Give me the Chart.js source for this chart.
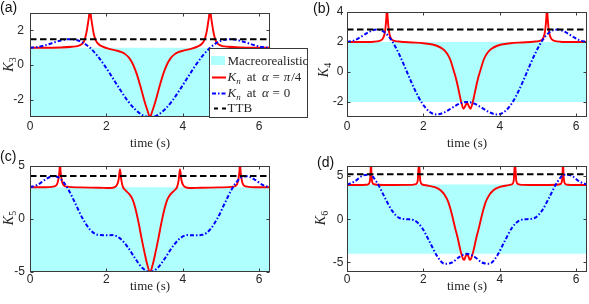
<!DOCTYPE html>
<html>
<head>
<meta charset="utf-8">
<script src="https://cdn.jsdelivr.net/npm/chart.js@4.4.1/dist/chart.umd.min.js"></script>
<style>
  html, body { margin: 0; padding: 0; background: #fff; }
  #wrap { position: relative; width: 589px; height: 304px; overflow: hidden; }
  canvas { position: absolute; }
</style>
</head>
<body>
<div id="wrap">
  <canvas id="pa" width="310" height="152" style="left:0px;top:0px"></canvas>
  <canvas id="pb" width="299" height="152" style="left:290px;top:0px"></canvas>
  <canvas id="pc" width="300" height="159" style="left:0px;top:145px"></canvas>
  <canvas id="pd" width="299" height="159" style="left:290px;top:145px"></canvas>
</div>
<script>
// ===== DATA =====
const TWO_PI = 6.2832;
const xTicks = [0, 2, 4, 6];
const yTicksA = [-2, 0, 2];
const yTicksB = [-2, 0, 2, 4];
const yTicksC = [-5, 0, 5];
const yTicksD = [-5, 0, 5];

// macrorealistic band and temporal Tsirelson bound, panels a..d
const macroLo = [-3, -2, -5, -4];
const macroHi = [1, 2, 3, 4];
const ttb = [1.5, 2.828, 4.045, 5.196];

// K_n at alpha = 0 (blue)
const tBlue = [0, 0.1963, 0.3927, 0.5890, 0.7854, 0.9817, 1.1781, 1.3744, 1.5708, 1.7671, 1.9635, 2.1598, 2.3562, 2.5525, 2.7489, 2.9452, 3.1416, 3.3379, 3.5343, 3.7306, 3.9270, 4.1233, 4.3197, 4.5160, 4.7124, 4.9087, 5.1051, 5.3014, 5.4978, 5.6941, 5.8905, 6.0868, 6.2832];
const k3Blue = [1.00, 1.04, 1.14, 1.28, 1.41, 1.49, 1.47, 1.31, 1.00, 0.53, -0.06, -0.73, -1.41, -2.05, -2.55, -2.89, -3.00, -2.89, -2.55, -2.05, -1.41, -0.73, -0.06, 0.53, 1.00, 1.31, 1.47, 1.49, 1.41, 1.28, 1.14, 1.04, 1.00];
const k4Blue = [2.00, 2.11, 2.39, 2.69, 2.83, 2.65, 2.07, 1.14, 0.00, -1.14, -2.07, -2.65, -2.83, -2.69, -2.39, -2.11, -2.00, -2.11, -2.39, -2.69, -2.83, -2.65, -2.07, -1.14, 0.00, 1.14, 2.07, 2.65, 2.83, 2.69, 2.39, 2.11, 2.00];
const k5Blue = [3.00, 3.22, 3.70, 4.03, 3.83, 2.93, 1.53, 0.07, -1.00, -1.49, -1.53, -1.52, -1.83, -2.62, -3.70, -4.63, -5.00, -4.63, -3.70, -2.62, -1.83, -1.52, -1.53, -1.49, -1.00, 0.07, 1.53, 2.93, 3.83, 4.03, 3.70, 3.22, 3.00];
const k6Blue = [4.00, 4.35, 5.00, 5.14, 4.24, 2.58, 0.99, 0.14, 0.00, -0.14, -0.99, -2.58, -4.24, -5.14, -5.00, -4.35, -4.00, -4.35, -5.00, -5.14, -4.24, -2.58, -0.99, -0.14, 0.00, 0.14, 0.99, 2.58, 4.24, 5.14, 5.00, 4.35, 4.00];

// K_n at alpha = pi/4 (red)
const tRedA = [0, 0.4, 0.8, 1.1, 1.25, 1.35, 1.42, 1.47, 1.51, 1.54, 1.5708, 1.60, 1.63, 1.67, 1.72, 1.79, 1.89, 2.05, 2.25, 2.4, 2.5, 2.6, 2.7, 2.8, 2.9, 3.0, 3.08, 3.1416, 3.2032, 3.2832, 3.3832, 3.4832, 3.5832, 3.6832, 3.7832, 3.8832, 4.0332, 4.2332, 4.3932, 4.4932, 4.5632, 4.6132, 4.6532, 4.6832, 4.7124, 4.7432, 4.7732, 4.8132, 4.8632, 4.9332, 5.0332, 5.1832, 5.4832, 5.8832, 6.2832];
const k3Red = [1.0, 1.0, 1.02, 1.06, 1.1, 1.2, 1.4, 1.8, 2.3, 2.75, 3.2, 2.75, 2.3, 1.8, 1.45, 1.22, 1.08, 0.95, 0.85, 0.75, 0.62, 0.4, 0.02, -0.55, -1.3, -2.1, -2.65, -3.0, -2.65, -2.1, -1.3, -0.55, 0.02, 0.4, 0.62, 0.75, 0.85, 0.95, 1.08, 1.22, 1.45, 1.8, 2.3, 2.75, 3.2, 2.75, 2.3, 1.8, 1.4, 1.2, 1.1, 1.06, 1.02, 1.0, 1.0];

const tRedB = [0, 0.4, 0.7, 0.85, 0.93, 0.98, 1.01, 1.03, 1.0472, 1.065, 1.085, 1.115, 1.16, 1.24, 1.4, 1.7, 2.0, 2.2, 2.35, 2.5, 2.6, 2.7, 2.78, 2.86, 2.93, 2.99, 3.05, 3.1, 3.1416, 3.1832, 3.2332, 3.2932, 3.3532, 3.4232, 3.5032, 3.5832, 3.6832, 3.7832, 3.9332, 4.0832, 4.2832, 4.5832, 4.8832, 5.0432, 5.1232, 5.1682, 5.1982, 5.2182, 5.236, 5.2532, 5.2732, 5.3032, 5.3532, 5.4332, 5.5832, 5.8832, 6.2832];
const k4Red = [2.0, 2.0, 2.02, 2.08, 2.2, 2.5, 3.0, 3.6, 4.2, 3.6, 3.0, 2.5, 2.2, 2.08, 2.02, 1.97, 1.92, 1.85, 1.75, 1.55, 1.3, 0.85, 0.2, -0.5, -1.3, -2.0, -2.45, -2.25, -2.05, -2.25, -2.45, -2.0, -1.3, -0.5, 0.2, 0.85, 1.3, 1.55, 1.75, 1.85, 1.92, 1.97, 2.02, 2.08, 2.2, 2.5, 3.0, 3.6, 4.2, 3.6, 3.0, 2.5, 2.2, 2.08, 2.02, 2.0, 2.0];

const tRedC = [0, 0.4, 0.6, 0.68, 0.72, 0.75, 0.77, 0.7854, 0.80, 0.82, 0.85, 0.89, 0.97, 1.3, 1.8, 2.1, 2.22, 2.28, 2.32, 2.3562, 2.39, 2.43, 2.5, 2.6, 2.68, 2.76, 2.84, 2.92, 3.0, 3.07, 3.1416, 3.2132, 3.2832, 3.3632, 3.4432, 3.5232, 3.6032, 3.6832, 3.7832, 3.8532, 3.8932, 3.927, 3.9632, 4.0032, 4.0632, 4.1832, 4.4832, 4.9832, 5.3132, 5.3932, 5.4332, 5.4632, 5.4832, 5.4978, 5.5132, 5.5332, 5.5632, 5.6032, 5.6832, 5.8832, 6.2832];
const k5Red = [3.0, 3.0, 3.05, 3.15, 3.4, 3.9, 4.5, 5.3, 4.5, 3.9, 3.4, 3.15, 3.05, 2.98, 2.95, 2.92, 3.0, 3.25, 3.7, 4.7, 3.7, 3.05, 2.7, 2.35, 1.9, 1.0, -0.3, -1.8, -3.2, -4.3, -5.0, -4.3, -3.2, -1.8, -0.3, 1.0, 1.9, 2.35, 2.7, 3.05, 3.7, 4.7, 3.7, 3.25, 3.0, 2.92, 2.95, 2.98, 3.05, 3.15, 3.4, 3.9, 4.5, 5.3, 4.5, 3.9, 3.4, 3.15, 3.05, 3.0, 3.0];

const tRedD = [0, 0.3, 0.5, 0.56, 0.59, 0.61, 0.6283, 0.645, 0.665, 0.7, 0.8, 1.2, 1.7, 1.8, 1.85, 1.885, 1.92, 1.97, 2.1, 2.3, 2.45, 2.55, 2.65, 2.75, 2.83, 2.9, 2.97, 3.04, 3.07, 3.1, 3.1416, 3.1832, 3.2132, 3.2432, 3.3132, 3.3832, 3.4532, 3.5332, 3.6332, 3.7332, 3.8332, 3.9832, 4.1832, 4.3132, 4.3632, 4.398, 4.4332, 4.4832, 4.5832, 5.0832, 5.4832, 5.5832, 5.6182, 5.6382, 5.655, 5.6732, 5.6932, 5.7232, 5.7832, 5.9832, 6.2832];
const k6Red = [3.95, 3.95, 3.98, 4.05, 4.25, 4.8, 6.5, 4.8, 4.25, 4.05, 3.98, 3.95, 3.97, 4.05, 4.4, 6.5, 4.4, 4.02, 3.9, 3.7, 3.35, 2.85, 2.0, 0.5, -1.0, -2.2, -3.6, -4.6, -4.7, -4.35, -4.0, -4.35, -4.7, -4.6, -3.6, -2.2, -1.0, 0.5, 2.0, 2.85, 3.35, 3.7, 3.9, 4.02, 4.4, 6.5, 4.4, 4.05, 3.97, 3.95, 3.98, 4.05, 4.25, 4.8, 6.5, 4.8, 4.25, 4.05, 3.98, 3.95, 3.95];

// ===== STYLE =====
const SERIF = '"Liberation Serif", "DejaVu Serif", serif';
const SANS = '"Liberation Sans", Arial, sans-serif';
const INK = '#262626';
const FRAME = '#3a3a3a';
const CYAN = '#b0ffff';
const RED = '#ff0000';
const BLUE = '#0000ff';
const DASH_BLUE = [4, 2, 1.5, 2];
const DASH_TTB = [6.5, 3.5];

const pts = (xs, ys) => xs.map((x, i) => ({ x: x, y: ys[i] }));

// draw a row of text pieces (italic / subscript), returns width
function drawRich(ctx, segs, x, y) {
  let cx = x;
  for (const s of segs) {
    ctx.font = (s.it ? 'italic ' : '') + s.size + 'px ' + SERIF;
    ctx.fillText(s.t, cx, y + (s.dy || 0));
    cx += ctx.measureText(s.t).width + (s.gap || 0);
  }
  return cx - x;
}
function richWidth(ctx, segs) {
  let w = 0;
  for (const s of segs) {
    ctx.font = (s.it ? 'italic ' : '') + s.size + 'px ' + SERIF;
    w += ctx.measureText(s.t).width + (s.gap || 0);
  }
  return w;
}

// ===== LEGEND (inside panel a, spills past its right edge) =====
function drawLegend(ctx) {
  const bx = 209.5, by = 48.5, bw = 98, bh = 69;
  ctx.save();
  ctx.fillStyle = '#fff';
  ctx.fillRect(bx, by, bw, bh);
  ctx.strokeStyle = FRAME;
  ctx.lineWidth = 1;
  ctx.strokeRect(bx, by, bw, bh);
  ctx.beginPath();
  ctx.rect(bx, by, bw, bh);
  ctx.clip();

  // samples
  ctx.fillStyle = CYAN;
  ctx.fillRect(211, 56, 14, 9);
  ctx.lineWidth = 1.8;
  ctx.strokeStyle = RED;
  ctx.beginPath(); ctx.moveTo(212, 77.5); ctx.lineTo(226, 77.5); ctx.stroke();
  ctx.lineWidth = 2;
  ctx.strokeStyle = BLUE;
  ctx.setLineDash(DASH_BLUE);
  ctx.beginPath(); ctx.moveTo(212, 93.5); ctx.lineTo(226, 93.5); ctx.stroke();
  ctx.strokeStyle = '#000';
  ctx.setLineDash([4, 4]);
  ctx.beginPath(); ctx.moveTo(214, 108.5); ctx.lineTo(226, 108.5); ctx.stroke();
  ctx.setLineDash([]);

  ctx.fillStyle = INK;
  ctx.textBaseline = 'alphabetic';
  ctx.textAlign = 'left';
  const tx = 227.5;
  drawRich(ctx, [{ t: 'Macreorealistic', size: 13 }], tx, 64.5);
  const kn = [{ t: 'K', size: 13, it: true }, { t: 'n', size: 9, it: true, dy: 3, gap: 6 },
              { t: 'at', size: 13, gap: 6 }, { t: 'α', size: 13, it: true, gap: 3.5 },
              { t: '=', size: 13, gap: 4 }];
  drawRich(ctx, kn.concat([{ t: 'π', size: 13, it: true, gap: 1 }, { t: '/4', size: 13 }]), tx, 81);
  drawRich(ctx, kn.concat([{ t: '0', size: 13 }]), tx, 97);
  drawRich(ctx, [{ t: 'TTB', size: 13 }], tx, 112);
  ctx.restore();
}

// ===== FRAME, INWARD TICKS AND LABELS =====
function framePlugin(p) {
  return {
    id: 'frame_' + p.id,
    afterDatasetsDraw(chart) {
      const ctx = chart.ctx, a = chart.chartArea;
      const xs = chart.scales.x, ys = chart.scales.y;
      const L = Math.round(a.left) + 0.5, R = Math.round(a.right) - 0.5;
      const T = Math.round(a.top) + 0.5, B = Math.round(a.bottom) - 0.5;
      ctx.save();
      ctx.strokeStyle = FRAME;
      ctx.lineWidth = 1;
      ctx.beginPath();
      xTicks.forEach(v => {
        const px = Math.round(xs.getPixelForValue(v)) + 0.5;
        ctx.moveTo(px, B); ctx.lineTo(px, B - 3);
        ctx.moveTo(px, T); ctx.lineTo(px, T + 3);
      });
      p.yTicks.forEach(v => {
        const py = Math.round(ys.getPixelForValue(v)) + 0.5;
        ctx.moveTo(L, py); ctx.lineTo(L + 3, py);
        ctx.moveTo(R, py); ctx.lineTo(R - 3, py);
      });
      ctx.stroke();
      ctx.strokeRect(L, T, R - L, B - T);
      ctx.restore();
    },
    afterDraw(chart) {
      const ctx = chart.ctx, a = chart.chartArea;
      const ox = p.cv[0], oy = p.cv[1];
      ctx.save();
      ctx.fillStyle = '#111';
      ctx.textAlign = 'left';
      ctx.textBaseline = 'alphabetic';
      ctx.font = '14px ' + SANS;
      ctx.fillText(p.tag, p.tagPos[0] - ox, p.tagPos[1] - oy);

      // x title
      ctx.fillStyle = INK;
      ctx.font = '13px ' + SERIF;
      ctx.textAlign = 'center';
      ctx.fillText('time (s)', (a.left + a.right) / 2, p.xLabY - oy);

      // y title, rotated
      ctx.textAlign = 'left';
      const segs = [{ t: 'K', size: 14, it: true }, { t: p.sub, size: 10, dy: 3 }];
      ctx.translate(p.yLab[0] - ox, p.yLab[1] - oy);
      ctx.rotate(-Math.PI / 2);
      drawRich(ctx, segs, -richWidth(ctx, segs) / 2, 0);
      ctx.restore();

      if (p.legend) drawLegend(ctx);
    }
  };
}

function makePanel(p) {
  const canvas = document.getElementById(p.id);
  const W = canvas.width, H = canvas.height;
  const ox = p.cv[0], oy = p.cv[1];
  new Chart(canvas, {
    type: 'line',
    data: {
      datasets: [
        { data: pts([0, TWO_PI], [p.ttb, p.ttb]), borderColor: '#000', borderWidth: 2, borderDash: DASH_TTB },
        { data: pts(tBlue, p.blue), borderColor: BLUE, borderWidth: 2, borderDash: DASH_BLUE, cubicInterpolationMode: 'monotone' },
        { data: pts(p.tRed, p.red), borderColor: RED, borderWidth: 1.9, cubicInterpolationMode: 'monotone' },
        { data: pts([0, TWO_PI], [p.hi, p.hi]), borderColor: 'rgba(0,0,0,0)', borderWidth: 0, backgroundColor: CYAN, fill: { value: p.lo } }
      ]
    },
    options: {
      responsive: false,
      animation: false,
      devicePixelRatio: 1,
      layout: { padding: { left: 0, top: p.area.t - oy, right: ox + W - p.area.r, bottom: 0 } },
      elements: { point: { radius: 0 } },
      plugins: { legend: { display: false }, tooltip: { enabled: false } },
      scales: {
        x: {
          type: 'linear', min: 0, max: TWO_PI,
          grid: { display: false, drawTicks: false },
          border: { display: false },
          ticks: { color: INK, font: { family: SANS, size: 12 }, padding: p.xPad },
          afterBuildTicks: s => { s.ticks = xTicks.map(v => ({ value: v })); },
          afterFit: s => { s.height = oy + H - p.area.b; }
        },
        y: {
          type: 'linear', min: p.yMin, max: p.yMax,
          grid: { display: false, drawTicks: false },
          border: { display: false },
          ticks: { color: INK, font: { family: SANS, size: 12 }, padding: p.yPad },
          afterBuildTicks: s => { s.ticks = p.yTicks.map(v => ({ value: v })); },
          afterFit: s => { s.width = p.area.l - ox; }
        }
      }
    },
    plugins: [framePlugin(p)]
  });
}

const panels = [
  { id: 'pa', cv: [0, 0], area: { l: 30, t: 12, r: 270, b: 117 }, yMin: -3, yMax: 3, yTicks: yTicksA,
    tRed: tRedA, red: k3Red, blue: k3Blue, ttb: ttb[0], lo: macroLo[0], hi: macroHi[0],
    tag: '(a)', tagPos: [0, 12], sub: '3', yLab: [13, 64.5], xLabY: 146.5, xPad: 2, yPad: 6, legend: true },
  { id: 'pb', cv: [290, 0], area: { l: 347, t: 12, r: 587, b: 117 }, yMin: -3, yMax: 4, yTicks: yTicksB,
    tRed: tRedB, red: k4Red, blue: k4Blue, ttb: ttb[1], lo: macroLo[1], hi: macroHi[1],
    tag: '(b)', tagPos: [313, 13], sub: '4', yLab: [328, 70], xLabY: 146.5, xPad: 2, yPad: 3.5 },
  { id: 'pc', cv: [0, 145], area: { l: 30, t: 166, r: 270, b: 272 }, yMin: -5, yMax: 5, yTicks: yTicksC,
    tRed: tRedC, red: k5Red, blue: k5Blue, ttb: ttb[2], lo: macroLo[2], hi: macroHi[2],
    tag: '(c)', tagPos: [0, 160.5], sub: '5', yLab: [13, 218], xLabY: 290, xPad: 0, yPad: 5 },
  { id: 'pd', cv: [290, 145], area: { l: 347, t: 166, r: 587, b: 272 }, yMin: -6.1, yMax: 6.15, yTicks: yTicksD,
    tRed: tRedD, red: k6Red, blue: k6Blue, ttb: ttb[3], lo: macroLo[3], hi: macroHi[3],
    tag: '(d)', tagPos: [317, 167], sub: '6', yLab: [325, 218], xLabY: 290, xPad: 0, yPad: 3.5 }
];

panels.forEach(makePanel);
</script>
</body>
</html>
